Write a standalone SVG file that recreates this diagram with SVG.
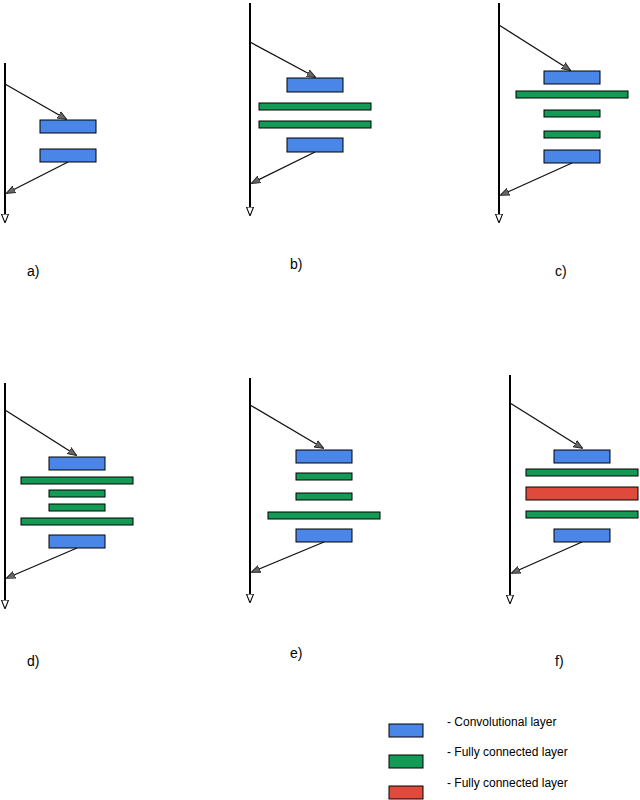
<svg xmlns="http://www.w3.org/2000/svg" width="640" height="800" viewBox="0 0 640 800">
<style>
.ax{stroke:#000;stroke-width:2;fill:none}
.ar{stroke:#111;stroke-width:1.3;fill:none}
.c{fill:#4a86e8;stroke:#000;stroke-width:1}
.g{fill:#139a55;stroke:#000;stroke-width:1}
.r{fill:#e04a3c;stroke:#000;stroke-width:1}
text{font-family:"Liberation Sans",Arial,sans-serif;fill:#000}
.l{font-size:14px}
.k{font-size:12px}
</style>
<defs>
<marker id="m" viewBox="0 0 10 10" refX="9" refY="5" markerWidth="9" markerHeight="9" orient="auto" markerUnits="userSpaceOnUse"><path d="M0,1 L10,5 L0,9 Z" fill="#666" stroke="#222" stroke-width="1"/></marker>
<marker id="v" viewBox="0 0 10 10" refX="9" refY="5" markerWidth="9" markerHeight="9" orient="auto" markerUnits="userSpaceOnUse"><path d="M0,1 L10,5 L0,9 Z" fill="#fff" stroke="#000" stroke-width="1.2"/></marker>
</defs>
<g id="connectors">
<line class="ax" x1="5" y1="63" x2="5" y2="222" marker-end="url(#v)"/>
<line class="ar" x1="5" y1="84" x2="66" y2="119" marker-end="url(#m)"/>
<line class="ar" x1="68" y1="162" x2="7" y2="193" marker-end="url(#m)"/>
<line class="ax" x1="250" y1="3" x2="250" y2="215" marker-end="url(#v)"/>
<line class="ar" x1="250" y1="42" x2="315" y2="77" marker-end="url(#m)"/>
<line class="ar" x1="315" y1="152" x2="252" y2="183" marker-end="url(#m)"/>
<line class="ax" x1="499" y1="3" x2="499" y2="222" marker-end="url(#v)"/>
<line class="ar" x1="499" y1="25" x2="570" y2="70" marker-end="url(#m)"/>
<line class="ar" x1="572" y1="163" x2="501" y2="195" marker-end="url(#m)"/>
<line class="ax" x1="5" y1="383" x2="5" y2="608" marker-end="url(#v)"/>
<line class="ar" x1="5" y1="410" x2="76" y2="455" marker-end="url(#m)"/>
<line class="ar" x1="77" y1="548" x2="7" y2="578" marker-end="url(#m)"/>
<line class="ax" x1="250" y1="378" x2="250" y2="602" marker-end="url(#v)"/>
<line class="ar" x1="250" y1="405" x2="323" y2="448" marker-end="url(#m)"/>
<line class="ar" x1="324" y1="542" x2="252" y2="572" marker-end="url(#m)"/>
<line class="ax" x1="510" y1="375" x2="510" y2="603" marker-end="url(#v)"/>
<line class="ar" x1="510" y1="403" x2="582" y2="448" marker-end="url(#m)"/>
<line class="ar" x1="582" y1="542" x2="512" y2="573" marker-end="url(#m)"/>
</g>
<g id="a"><rect class="c" x="40" y="120" width="56" height="13"/><rect class="c" x="40" y="149" width="56" height="13"/><text class="l" x="27" y="276">a)</text></g>
<g id="b"><rect class="c" x="287" y="78" width="56" height="14"/><rect class="g" x="259" y="103" width="112" height="7"/><rect class="g" x="259" y="121" width="112" height="7"/><rect class="c" x="287" y="138" width="56" height="14"/><text class="l" x="290" y="269">b)</text></g>
<g id="c"><rect class="c" x="544" y="71" width="56" height="13"/><rect class="g" x="516" y="91" width="112" height="7"/><rect class="g" x="544" y="110" width="56" height="7"/><rect class="g" x="544" y="131" width="56" height="7"/><rect class="c" x="544" y="150" width="56" height="13"/><text class="l" x="555" y="276">c)</text></g>
<g id="d"><rect class="c" x="49" y="457" width="56" height="13"/><rect class="g" x="21" y="477" width="112" height="7"/><rect class="g" x="49" y="490" width="56" height="7"/><rect class="g" x="49" y="504" width="56" height="7"/><rect class="g" x="21" y="518" width="112" height="7"/><rect class="c" x="49" y="535" width="56" height="13"/><text class="l" x="27" y="666">d)</text></g>
<g id="e"><rect class="c" x="296" y="450" width="56" height="13"/><rect class="g" x="296" y="473" width="56" height="7"/><rect class="g" x="296" y="493" width="56" height="7"/><rect class="g" x="268" y="512" width="112" height="7"/><rect class="c" x="296" y="529" width="56" height="13"/><text class="l" x="290" y="658">e)</text></g>
<g id="f"><rect class="c" x="554" y="450" width="56" height="13"/><rect class="g" x="526" y="469" width="112" height="7"/><rect class="r" x="526" y="487" width="112" height="13"/><rect class="g" x="526" y="511" width="112" height="7"/><rect class="c" x="554" y="529" width="56" height="13"/><text class="l" x="555" y="666">f)</text></g>
<g id="legend">
<rect class="c" x="389" y="724" width="34" height="13"/><text class="k" x="447" y="726">- Convolutional layer</text>
<rect class="g" x="389" y="755" width="34" height="13"/><text class="k" x="447" y="756">- Fully connected layer</text>
<rect class="r" x="389" y="786" width="34" height="13"/><text class="k" x="447" y="787">- Fully connected layer</text>
</g>
</svg>
